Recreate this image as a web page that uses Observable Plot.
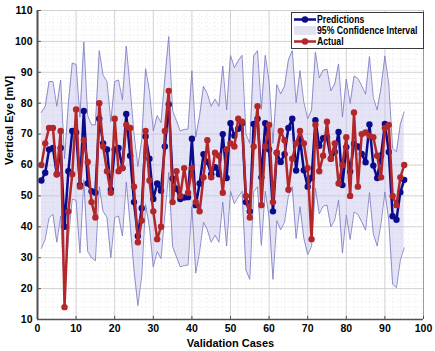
<!DOCTYPE html>
<html><head><meta charset="utf-8">
<script src="https://cdn.jsdelivr.net/npm/d3@7"></script>
<script src="https://cdn.jsdelivr.net/npm/@observablehq/plot@0.6"></script>
<style>
body{margin:0;background:#fff;font-family:"Liberation Sans",Arial,sans-serif;}
#wrap{position:relative;width:435px;height:351px;}
#legend{position:absolute;left:291px;top:12px;width:131px;height:35px;border:1px solid #3a3a3a;background:#fff;font-family:"Liberation Sans",Arial,sans-serif;font-weight:bold;font-size:11px;color:#000;}
#legend .row{position:absolute;left:0;height:11px;line-height:11px;}
#legend .row span{position:absolute;left:25px;top:0;white-space:nowrap;display:inline-block;transform:scaleX(0.79);transform-origin:0 50%;}
#legend svg{position:absolute;left:2px;top:0;}
</style></head><body><div id="wrap"><div id="legend">
<div class="row" style="top:1px"><svg width="22" height="11"><line x1="0" y1="5.5" x2="22" y2="5.5" stroke="#0b0b8c" stroke-width="2.5"/><circle cx="11" cy="5.5" r="3.2" fill="#0b0b8c"/></svg><span>Predictions</span></div>
<div class="row" style="top:12px"><svg width="22" height="11"><rect x="0" y="1" width="22" height="9" fill="#e2e2f3"/></svg><span>95% Confidence Interval</span></div>
<div class="row" style="top:23px"><svg width="22" height="11"><line x1="0" y1="5.5" x2="22" y2="5.5" stroke="#b3272a" stroke-width="2.5"/><circle cx="11" cy="5.5" r="3.2" fill="#b3272a"/></svg><span>Actual</span></div>
</div></div>
<script>
const predictions = [55,57.5,65,65.5,57,65.5,40,58,71,70.5,53.5,77.5,54,51.5,51,75,67,65,52,65,
65.5,59,76.5,63,48,37,46,69.2,62,49,54,51.7,66,79.6,55.6,52.3,49,49.5,49.6,68.5,
47,54,63.5,61,57,59.3,57,70,55.8,73.5,69.5,71.7,73.5,48,45,73.3,75,56,73.5,65,
45,64,61,63.5,72,75,58.2,68.5,58.3,53,55.8,74.5,66.2,68.7,69,62,64.2,70.7,53.5,65.8,
57.9,66.8,66,63.6,60.9,73.1,59.8,55.8,63.1,73.3,64.2,43.4,42.3,51.2,55.2];
const actual = [60,67,72,72,57,71,14,45,57,78,53,68,61,48,43,80,66,58,51,75,
58,59,73,72,53,35,42,71,55,45,36,40,71,84,48,58,50,59,51,59,
48,45,56,68,56,64,63,51,65,67,66,75,74,50,43,66,79,47,66,73,
48,64,71,68,52,62,67,71,67,59,36,73,58,63,74,62,67,54,60,69,
50,77,53,70,70.5,69.5,69,63,56,72,73,50,47,56,60];
const ciHalfWidth = [22,21.5,22,21.5,22,22,22,22,22,22,22,22.3,22,21.5,22,22,22,22,22,22,
22,22,22,22,22,22.5,22,22,22,22,22,22,22,22,22,22,22,22,22,22,
22,22,22,22,22,22,22,22,22,22,22,22,22,22,22,22,22,22,22,22,
22,22,22,22,22,22,22,22,22,22,22,22,22,22,22,22,22,22,22,22,
22,22,22,22,22,22,22,22,22,22,22,22,22,22,22];
const xTicks = [0,10,20,30,40,50,60,70,80,90,100];
const yTicks = [10,20,30,40,50,60,70,80,90,100,110];
const xMinor = [2,4,6,8,12,14,16,18,22,24,26,28,32,34,36,38,42,44,46,48,52,54,56,58,62,64,66,68,72,74,76,78,82,84,86,88,92,94,96,98];
const yMinor = [12,14,16,18,22,24,26,28,32,34,36,38,42,44,46,48,52,54,56,58,62,64,66,68,72,74,76,78,82,84,86,88,92,94,96,98,102,104,106,108];

const data = predictions.map((p, i) => ({
  case: i + 1, pred: p, actual: actual[i],
  lo: p - ciHalfWidth[i], hi: p + ciHalfWidth[i]
}));

const blue = "#0b0b8c", red = "#b3272a";
const chart = Plot.plot({
  width: 435, height: 351,
  marginLeft: 37, marginRight: 12, marginTop: 10, marginBottom: 32,
  style: {fontFamily: "'Liberation Sans', Arial, sans-serif", background: "#fff"},
  x: {domain: [0, 100]},
  y: {domain: [10, 110]},
  marks: [
    Plot.ruleX(xMinor, {stroke: "#e6e6e6", strokeDasharray: "1,3"}),
    Plot.ruleY(yMinor, {stroke: "#e6e6e6", strokeDasharray: "1,3"}),
    Plot.ruleX(xTicks, {stroke: "#d2d2d2"}),
    Plot.ruleY(yTicks, {stroke: "#d2d2d2"}),
    Plot.areaY(data, {x: "case", y1: "lo", y2: "hi", fill: "#c4c4ea", fillOpacity: 0.45}),
    Plot.lineY(data, {x: "case", y: "hi", stroke: "#7c7cc4", strokeWidth: 1, strokeOpacity: 0.85}),
    Plot.lineY(data, {x: "case", y: "lo", stroke: "#7c7cc4", strokeWidth: 1, strokeOpacity: 0.85}),
    Plot.lineY(data, {x: "case", y: "pred", stroke: blue, strokeWidth: 2.5}),
    Plot.dot(data, {x: "case", y: "pred", r: 3.2, fill: blue, stroke: "none"}),
    Plot.lineY(data, {x: "case", y: "actual", stroke: red, strokeWidth: 2.5}),
    Plot.dot(data, {x: "case", y: "actual", r: 3.2, fill: red, stroke: "none"}),
    Plot.ruleX([100], {stroke: "#9a9a9a"}),
    Plot.ruleX([0], {stroke: "#505050", strokeWidth: 2}),
    Plot.ruleY([10], {stroke: "#505050", strokeWidth: 1.5}),
    Plot.ruleY(yTicks, {x1: 0, x2: 1, stroke: "#505050"}),
    Plot.ruleX(xTicks, {y1: 10, y2: 11, stroke: "#505050"}),
    Plot.axisX(xTicks, {tickSize: 0, tickPadding: 5, fontSize: 10.5, fontWeight: "bold", label: null}),
    Plot.axisY(yTicks, {tickSize: 0, tickPadding: 5, fontSize: 10.5, fontWeight: "bold", label: null}),
    Plot.text(["Validation Cases"], {frameAnchor: "bottom", lineAnchor: "middle", dy: 24, fontSize: 11, fontWeight: "bold"}),
    Plot.text(["Vertical Eye [mV]"], {frameAnchor: "left", rotate: -90, dx: -28, fontSize: 11, fontWeight: "bold"})
  ]
});
document.getElementById("wrap").prepend(chart);
chart.style.position = "absolute"; chart.style.left = "0"; chart.style.top = "0";
</script></body></html>
